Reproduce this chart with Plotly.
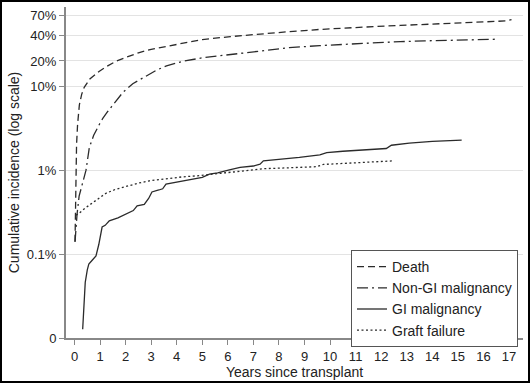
import plotly.graph_objects as go

# Cumulative incidence (%) vs years since transplant
death_t = [0.02, 0.03, 0.05, 0.08, 0.12, 0.19, 0.28, 0.38, 0.6, 0.96, 1.3, 1.62, 2.0, 2.5, 3.0, 3.6,
           4.3, 5.0, 6.1, 7.2, 8.4, 9.6, 10.8, 11.8, 12.75, 13.7, 14.7, 15.7, 16.65, 16.9, 17.1]
death_v = [0.14, 0.3, 0.8, 2.0, 3.5, 6.0, 8.0, 9.7, 12.2, 15.0, 17.5, 19.8, 22.0, 25.0, 27.5, 30.0,
           33.0, 36.0, 39.0, 42.0, 44.7, 47.5, 50.0, 51.5, 53.0, 54.5, 56.0, 57.5, 59.0, 60.0, 62.0]

nongi_t = [0.02, 0.05, 0.1, 0.18, 0.28, 0.37, 0.45, 0.58, 0.75, 0.97, 1.1, 1.3, 1.62, 1.9, 2.28,
           2.8, 3.2, 3.6, 4.3, 5.0, 6.1, 7.2, 8.4, 9.6, 10.8, 11.8, 12.75, 13.7, 14.7, 15.7, 16.5]
nongi_v = [0.14, 0.2, 0.3, 0.49, 0.65, 0.8, 1.0, 1.86, 2.6, 3.5, 4.1, 5.0, 6.7, 8.5, 10.7,
           13.3, 15.5, 17.5, 20.0, 21.8, 24.0, 26.3, 28.8, 30.5, 32.0, 33.0, 34.0, 34.7, 35.3, 35.8, 36.3]

gi_t = [0.32, 0.36, 0.42, 0.5, 0.56, 0.7, 0.84, 0.95, 1.08, 1.2, 1.36, 1.7, 2.0, 2.3, 2.45, 2.73,
        2.9, 3.03, 3.3, 3.45, 3.58, 3.9, 4.23, 4.6, 5.0, 5.28, 5.6, 6.06, 6.48, 7.0, 7.26, 7.39,
        8.0, 8.8, 9.6, 9.87, 10.5, 11.3, 12.2, 12.4, 13.1, 14.0, 15.15]
gi_v = [0.0127, 0.025, 0.046, 0.065, 0.076, 0.085, 0.095, 0.13, 0.21, 0.22, 0.249, 0.27, 0.3, 0.33,
        0.376, 0.39, 0.46, 0.55, 0.58, 0.6, 0.68, 0.71, 0.746, 0.78, 0.82, 0.896, 0.93, 1.01, 1.08,
        1.12, 1.18, 1.29, 1.34, 1.42, 1.52, 1.62, 1.68, 1.74, 1.81, 1.98, 2.1, 2.2, 2.28]

gf_t = [0.06, 0.2, 0.4, 0.71, 1.0, 1.23, 1.6, 2.0, 2.5, 2.93, 3.58, 4.2, 4.88, 5.5, 6.19, 6.71,
        7.39, 8.5, 9.48, 9.74, 11.0, 12.48]
gf_v = [0.29, 0.31, 0.35, 0.41, 0.47, 0.53, 0.59, 0.64, 0.7, 0.746, 0.79, 0.83, 0.86, 0.9, 0.955,
        0.98, 1.04, 1.07, 1.1, 1.17, 1.22, 1.29]

y_tickvals = [0.01, 0.1, 1, 10, 20, 40, 70]
y_ticktext = ["0", "0.1%", "1%", "10%", "20%", "40%", "70%"]
x_tickvals = list(range(0, 18))

LC = "#2b2b2b"
fig = go.Figure()
fig.add_trace(go.Scatter(x=death_t, y=death_v, mode="lines", name="Death",
                         line=dict(color=LC, width=1.3, dash="7px,4px")))
fig.add_trace(go.Scatter(x=nongi_t, y=nongi_v, mode="lines", name="Non-GI malignancy",
                         line=dict(color=LC, width=1.3, dash="11px,4px,2px,4px")))
fig.add_trace(go.Scatter(x=gi_t, y=gi_v, mode="lines", name="GI malignancy",
                         line=dict(color=LC, width=1.3)))
fig.add_trace(go.Scatter(x=gf_t, y=gf_v, mode="lines", name="Graft failure",
                         line=dict(color=LC, width=1.3, dash="2px,2.5px")))

W, H = 530, 383
ml, mr, mt, mb = 66, 7, 7, 45
pw, ph = W - ml - mr, H - mt - mb

def px2paper_x(p):
    return (p - ml) / pw

def px2paper_y(p):
    return (H - mb - p) / ph

fig.update_layout(
    width=W, height=H,
    margin=dict(l=ml, r=mr, t=mt, b=mb, autoexpand=False),
    paper_bgcolor="white", plot_bgcolor="white",
    font=dict(family="Liberation Sans, Arial, sans-serif", size=13, color="#222"),
    xaxis=dict(range=[-0.333, 17.55], tickvals=x_tickvals, ticks="outside", ticklen=5,
               tickcolor="#888", showline=True, linecolor="#888", linewidth=2,
               showgrid=False, zeroline=False, automargin=False,
               tickfont=dict(size=13),
               title=dict(text="Years since transplant", standoff=2, font=dict(size=14))),
    yaxis=dict(type="log", range=[-2, 1.944], tickvals=y_tickvals, ticktext=y_ticktext,
               ticks="outside", ticklen=5, tickcolor="#888", showline=True, linecolor="#888",
               linewidth=2, showgrid=True, gridcolor="#e3e3e3", gridwidth=1, zeroline=False,
               automargin=False, tickfont=dict(size=13),
               title=dict(text="Cumulative incidence (log scale)", standoff=4, font=dict(size=14))),
    legend=dict(x=px2paper_x(351), y=px2paper_y(250), xanchor="left", yanchor="top",
                bordercolor="#555", borderwidth=1, bgcolor="white",
                font=dict(size=14), itemwidth=30, tracegroupgap=0),
    showlegend=True,
    shapes=[dict(type="rect", xref="paper", yref="paper",
                 x0=px2paper_x(1), x1=px2paper_x(529), y0=px2paper_y(382), y1=px2paper_y(1),
                 line=dict(color="black", width=2), fillcolor="rgba(0,0,0,0)", layer="above")],
)

fig.write_html("out.html", config={"displayModeBar": False},
               post_script="document.body.style.margin='0';document.body.style.overflow='hidden';")
